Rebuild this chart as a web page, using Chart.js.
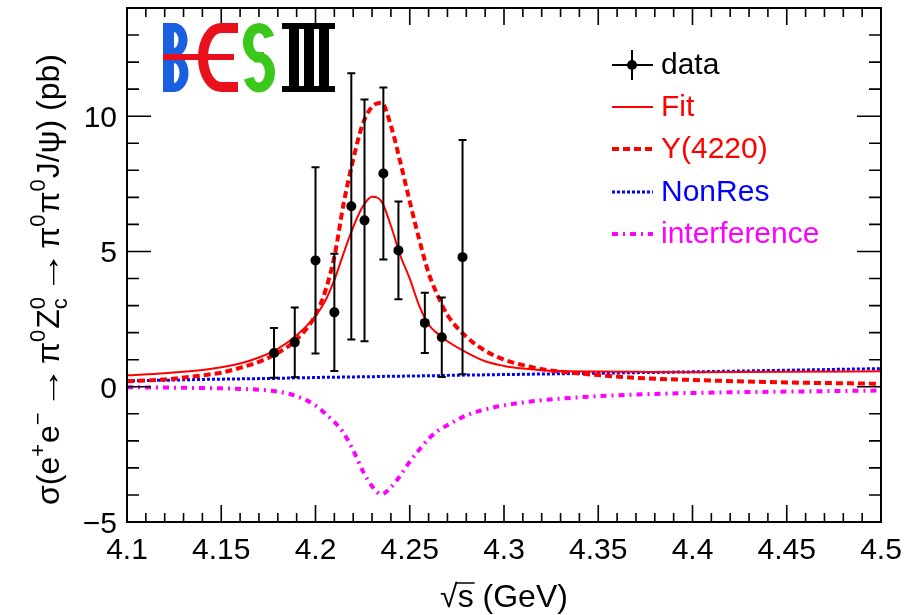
<!DOCTYPE html>
<html>
<head>
<meta charset="utf-8">
<title>e+e- -> pi0 Zc0 cross section</title>
<script src="https://cdn.jsdelivr.net/npm/chart.js@4.4.0/dist/chart.umd.min.js"></script>
<style>
  html, body { margin: 0; padding: 0; background: #fff; }
  canvas { display: block; }
</style>
</head>
<body>
<canvas id="xsec" width="904" height="615"></canvas>
<script>
// measured points: sqrt(s) in GeV, cross section and error in pb
const energies = [4.178, 4.189, 4.200, 4.210, 4.219, 4.226, 4.236, 4.244, 4.258, 4.267, 4.278];
const xsec     = [1.25, 1.64, 4.67, 2.75, 6.67, 6.15, 7.88, 5.04, 2.36, 1.83, 4.79];
const xsecErr  = [0.92, 1.29, 3.44, 2.17, 4.92, 4.47, 3.18, 1.81, 1.11, 1.47, 4.33];

// fit components sampled along sqrt(s)
const curveE = [4.10, 4.12, 4.14, 4.15, 4.16, 4.17, 4.18, 4.19, 4.20, 4.205, 4.21, 4.215, 4.22, 4.225,
                4.23, 4.235, 4.24, 4.245, 4.25, 4.255, 4.26, 4.265, 4.27, 4.28, 4.29, 4.30, 4.31, 4.32,
                4.33, 4.35, 4.37, 4.40, 4.45, 4.50];
const fitCurve = [0.42, 0.50, 0.62, 0.72, 0.86, 1.08, 1.40, 1.90, 2.62, 3.15, 3.95, 4.95, 5.90, 6.65,
                  7.02, 6.85, 5.95, 4.85, 4.00, 3.00, 2.30, 1.95, 1.68, 1.27, 0.94, 0.77, 0.67, 0.61,
                  0.58, 0.56, 0.55, 0.54, 0.55, 0.57];
const y4220Curve = [0.20, 0.27, 0.42, 0.52, 0.70, 0.92, 1.25, 1.75, 2.65, 3.50, 4.80, 6.80, 8.40, 9.70,
                    10.35, 10.50, 9.65, 8.30, 6.85, 5.45, 4.20, 3.35, 2.65, 1.85, 1.33, 1.00, 0.80, 0.65,
                    0.56, 0.43, 0.33, 0.25, 0.16, 0.11];
const nonResCurve = [0.22, 0.24, 0.27, 0.28, 0.29, 0.30, 0.31, 0.33, 0.34, 0.35, 0.35, 0.36, 0.36, 0.37,
                     0.37, 0.38, 0.39, 0.39, 0.40, 0.40, 0.41, 0.41, 0.42, 0.43, 0.44, 0.45, 0.46, 0.47,
                     0.48, 0.50, 0.52, 0.55, 0.61, 0.67];
const interfCurve = [-0.02, -0.03, -0.05, -0.06, -0.08, -0.11, -0.18, -0.35, -0.69, -0.98, -1.30, -1.72, -2.35, -3.10,
                     -3.68, -3.97, -3.72, -3.28, -2.77, -2.33, -1.93, -1.62, -1.42, -1.06, -0.84, -0.69, -0.58, -0.50,
                     -0.44, -0.35, -0.29, -0.23, -0.18, -0.14];

const xTickLabels = ['4.1', '4.15', '4.2', '4.25', '4.3', '4.35', '4.4', '4.45', '4.5'];
const yTickLabels = ['\u22125', '0', '5', '10'];
const yTickValues = [-5, 0, 5, 10];

const FONT = '"Liberation Sans", Arial, Helvetica, sans-serif';
const RED = '#ff0000', BLUE = '#0000ff', MAGENTA = '#ff00ff';

function toPoints(xs, ys) {
    return xs.map(function(x, i) { return { x: x, y: ys[i] }; });
}

function curve(label, values, color, width, dash) {
    return {
        label: label,
        data: toPoints(curveE, values),
        showLine: true,
        borderColor: color,
        borderWidth: width,
        borderDash: dash,
        pointRadius: 0,
        cubicInterpolationMode: 'monotone'
    };
}

// error bars under the data markers
const errorBars = {
    id: 'errorBars',
    beforeDatasetDraw(chart, args) {
        if (args.index !== 0) return;
        const ctx = chart.ctx, xs = chart.scales.x, ys = chart.scales.y;
        ctx.save();
        ctx.strokeStyle = '#000';
        ctx.lineWidth = 2;
        ctx.beginPath();
        energies.forEach(function(e, i) {
            const px = xs.getPixelForValue(e);
            const top = ys.getPixelForValue(xsec[i] + xsecErr[i]);
            const bot = ys.getPixelForValue(xsec[i] - xsecErr[i]);
            ctx.moveTo(px, top); ctx.lineTo(px, bot);
            ctx.moveTo(px - 4, top); ctx.lineTo(px + 4, top);
            ctx.moveTo(px - 4, bot); ctx.lineTo(px + 4, bot);
        });
        ctx.stroke();
        ctx.restore();
    }
};

// frame, inward ticks on all four sides, tick labels and axis titles
const frameAxes = {
    id: 'frameAxes',
    afterDraw(chart) {
        const ctx = chart.ctx, a = chart.chartArea;
        const xs = chart.scales.x, ys = chart.scales.y;
        ctx.save();
        ctx.strokeStyle = '#000';
        ctx.lineWidth = 1.6;
        ctx.beginPath();
        for (let i = 0; i <= 40; i++) {
            const px = xs.getPixelForValue(4.1 + i * 0.01);
            const len = i % 5 === 0 ? 17 : 9;
            ctx.moveTo(px, a.bottom); ctx.lineTo(px, a.bottom - len);
            ctx.moveTo(px, a.top); ctx.lineTo(px, a.top + len);
        }
        for (let v = -5; v <= 14; v++) {
            const py = ys.getPixelForValue(v);
            const len = v % 5 === 0 ? 24 : 12;
            ctx.moveTo(a.left, py); ctx.lineTo(a.left + len, py);
            ctx.moveTo(a.right, py); ctx.lineTo(a.right - len, py);
        }
        ctx.stroke();
        ctx.lineWidth = 2;
        ctx.strokeRect(a.left, a.top, a.right - a.left, a.bottom - a.top);

        ctx.fillStyle = '#000';
        ctx.font = '30px ' + FONT;
        ctx.textBaseline = 'alphabetic';
        ctx.textAlign = 'center';
        xTickLabels.forEach(function(t) {
            ctx.fillText(t, xs.getPixelForValue(parseFloat(t)), a.bottom + 37);
        });
        ctx.textAlign = 'right';
        yTickLabels.forEach(function(t, i) {
            ctx.fillText(t, a.left - 10, ys.getPixelForValue(yTickValues[i]) + 11);
        });

        // x title: sqrt(s) (GeV)
        ctx.font = '32px ' + FONT;
        ctx.textAlign = 'left';
        const rootW = ctx.measureText('\u221A').width;
        const sW = ctx.measureText('s').width;
        const restW = ctx.measureText(' (GeV)').width;
        let x0 = (a.left + a.right) / 2 - (rootW + sW + restW) / 2;
        const base = 607;
        ctx.fillText('\u221A', x0, base);
        ctx.fillText('s', x0 + rootW, base);
        ctx.fillText(' (GeV)', x0 + rootW + sW, base);
        ctx.lineWidth = 1.5;
        ctx.beginPath();
        ctx.moveTo(x0 + rootW - 2, base - 24);
        ctx.lineTo(x0 + rootW + sW + 1, base - 24);
        ctx.stroke();

        drawYTitle(ctx);
        ctx.restore();
    }
};

const yTitleParts = [
    { t: '\u03C3(e' }, { t: '+', up: true }, { t: 'e' }, { t: '\u2212', up: true }, { t: '\u2192', arrow: true },
    { t: '\u03C0' }, { t: '0', up: true }, { t: 'Z' }, { t: 'c', down: true, over: '0' }, { t: '\u2192', arrow: true },
    { t: '\u03C0' }, { t: '0', up: true }, { t: '\u03C0' }, { t: '0', up: true }, { t: 'J/\u03C8) (pb)' }
];

function drawYTitle(ctx) {
    const size = 32, small = 22;
    ctx.save();
    ctx.translate(59, 505);
    ctx.rotate(-Math.PI / 2);
    ctx.textAlign = 'left';
    ctx.textBaseline = 'alphabetic';
    ctx.fillStyle = '#000';
    let x = 0;
    yTitleParts.forEach(function(p) {
        if (p.up || p.down) {
            ctx.font = small + 'px ' + FONT;
            let w = ctx.measureText(p.t).width;
            ctx.fillText(p.t, x, p.up ? -14 : 8);
            if (p.over) {
                ctx.fillText(p.over, x, -14);
                w = Math.max(w, ctx.measureText(p.over).width);
            }
            x += w + 1;
        } else if (p.arrow) {
            ctx.font = size + 'px ' + FONT;
            const w = ctx.measureText(p.t).width;
            ctx.save();
            ctx.translate(x + 2, 0);
            ctx.scale(1.35, 1);
            ctx.fillText(p.t, 0, 0);
            ctx.restore();
            x += w * 1.35 + 4;
        } else {
            ctx.font = size + 'px ' + FONT;
            ctx.fillText(p.t, x, 0);
            x += ctx.measureText(p.t).width;
        }
    });
    ctx.restore();
}

const legendRows = [
    { label: 'data', color: '#000' },
    { label: 'Fit', color: RED, width: 2, dash: [] },
    { label: 'Y(4220)', color: RED, width: 4, dash: [7, 4] },
    { label: 'NonRes', color: BLUE, width: 3, dash: [3, 2] },
    { label: 'interference', color: MAGENTA, width: 4, dash: [6, 5, 2, 5] }
];
const legendY = [65, 107, 149, 192, 234];

const legendBox = {
    id: 'legendBox',
    afterDraw(chart) {
        const ctx = chart.ctx;
        ctx.save();
        ctx.font = '30px ' + FONT;
        ctx.textAlign = 'left';
        ctx.textBaseline = 'alphabetic';
        legendRows.forEach(function(r, i) {
            const y = legendY[i];
            ctx.strokeStyle = r.color;
            if (i === 0) {
                ctx.lineWidth = 2;
                ctx.setLineDash([]);
                ctx.beginPath();
                ctx.moveTo(612, y); ctx.lineTo(653, y);
                ctx.moveTo(632, y - 15); ctx.lineTo(632, y + 15);
                ctx.stroke();
                ctx.fillStyle = '#000';
                ctx.beginPath();
                ctx.arc(632, y, 5, 0, Math.PI * 2);
                ctx.fill();
            } else {
                ctx.lineWidth = r.width;
                ctx.setLineDash(r.dash);
                ctx.beginPath();
                ctx.moveTo(612, y); ctx.lineTo(653, y);
                ctx.stroke();
            }
            ctx.setLineDash([]);
            ctx.fillStyle = r.color;
            ctx.fillText(r.label, 661, y + 9);
        });
        ctx.restore();
    }
};

// experiment logo in the upper left corner
const logo = {
    id: 'logo',
    afterDraw(chart) {
        const ctx = chart.ctx;
        ctx.save();
        ctx.lineCap = 'butt';
        // B
        ctx.fillStyle = '#1a5fe0';
        ctx.fillRect(163, 23, 11, 69);
        ctx.strokeStyle = '#1a5fe0';
        ctx.lineWidth = 9;
        ctx.beginPath();
        ctx.moveTo(170, 27.5);
        ctx.ellipse(174, 40, 9, 12.5, 0, -Math.PI / 2, Math.PI / 2);
        ctx.lineTo(170, 52.5);
        ctx.moveTo(170, 59);
        ctx.ellipse(174, 73, 10, 14.5, 0, -Math.PI / 2, Math.PI / 2);
        ctx.lineTo(170, 87.5);
        ctx.stroke();
        // E
        ctx.strokeStyle = '#e8101a';
        ctx.lineWidth = 10;
        ctx.beginPath();
        ctx.moveTo(238, 28);
        ctx.lineTo(221, 28);
        ctx.ellipse(221, 57.5, 18, 29.5, 0, -Math.PI / 2, Math.PI / 2, true);
        ctx.lineTo(238, 87);
        ctx.stroke();
        ctx.lineWidth = 6;
        ctx.beginPath();
        ctx.moveTo(163, 57); ctx.lineTo(234, 57);
        ctx.stroke();
        // S
        ctx.strokeStyle = '#3cc81a';
        ctx.lineWidth = 10;
        ctx.beginPath();
        ctx.ellipse(259, 42.5, 11, 14.5, 0, -0.12 * Math.PI, 0.5 * Math.PI, true);
        ctx.ellipse(259, 72.5, 11, 15, 0, -0.5 * Math.PI, 0.88 * Math.PI, false);
        ctx.stroke();
        // III
        ctx.fillStyle = '#000';
        ctx.fillRect(282, 23, 53, 6);
        ctx.fillRect(282, 86, 53, 6);
        ctx.fillRect(289, 23, 10, 69);
        ctx.fillRect(304, 23, 10, 69);
        ctx.fillRect(319, 23, 10, 69);
        ctx.restore();
    }
};

new Chart(document.getElementById('xsec'), {
    type: 'scatter',
    data: {
        datasets: [
            {
                label: 'data',
                data: toPoints(energies, xsec),
                pointRadius: 5,
                pointBackgroundColor: '#000',
                pointBorderWidth: 0,
                showLine: false
            },
            curve('Fit', fitCurve, RED, 2, []),
            curve('Y(4220)', y4220Curve, RED, 4, [7, 4]),
            curve('NonRes', nonResCurve, BLUE, 3, [3, 2]),
            curve('interference', interfCurve, MAGENTA, 4, [6, 5, 2, 5])
        ]
    },
    options: {
        responsive: false,
        animation: false,
        devicePixelRatio: 1,
        layout: { padding: { left: 127, top: 8, right: 23, bottom: 93 } },
        scales: {
            x: { type: 'linear', min: 4.1, max: 4.5, display: false },
            y: { type: 'linear', min: -5, max: 14, display: false }
        },
        plugins: {
            legend: { display: false },
            tooltip: { enabled: false }
        }
    },
    plugins: [errorBars, frameAxes, legendBox, logo]
});
</script>
</body>
</html>
